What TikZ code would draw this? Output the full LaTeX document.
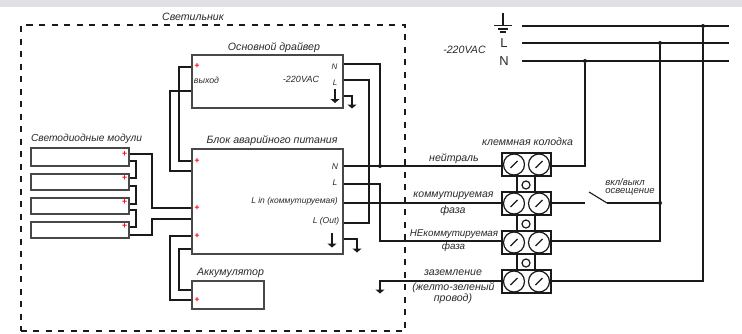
\documentclass[tikz,border=0pt]{standalone}
\usepackage{fontspec}
\setmainfont{Liberation Sans}
\usetikzlibrary{arrows.meta}
\definecolor{ink}{HTML}{1A1A1A}
\definecolor{txt}{HTML}{2A2A2A}
\definecolor{band}{HTML}{DFE1E6}
\tikzset{
  box/.style={draw=ink!80,line width=1.5bp,fill=white,inner sep=0pt,minimum width=#1},
  wire/.style={draw=ink,line width=2bp},
  gnd/.style={wire,-{Triangle[length=4bp,width=9bp]}},
  lbl/.style={text=txt,inner sep=0pt,font=\itshape\fontsize{#1}{#1}\selectfont},
  plus/.style={text=red,inner sep=0pt,font=\bfseries\fontsize{8.5}{8.5}\selectfont},
  screw/.style={circle,draw=ink,line width=1.2bp,minimum size=21bp,inner sep=0pt,fill=white},
  term/.style={rectangle,draw=ink,line width=1.5bp,fill=white,minimum width=49bp,minimum height=23bp,inner sep=0pt},
  link/.style={rectangle,draw=ink,line width=1.5bp,fill=white,minimum width=18bp,minimum height=17bp,inner sep=0pt},
  hole/.style={circle,draw=ink,line width=1.2bp,minimum size=8bp,inner sep=0pt,fill=white},
  dot/.style={circle,fill=ink,inner sep=0pt,minimum size=4bp},
}
\begin{document}
\begin{tikzpicture}[x=1bp,y=-1bp]
\useasboundingbox (0,0) rectangle (742,333);
\fill[band] (0,0) rectangle (742,7);
\fill[white] (0,7) rectangle (742,333);
% lamp enclosure
\node[draw=ink,line width=1.1bp,dash pattern=on 6bp off 6.5bp,inner sep=0pt,minimum width=384bp,minimum height=306bp] (lamp) at (213,178) {};
\node[lbl=10.6bp] (lampt) at (193,17) {Светильник};
% boxes
\node[box=151bp,minimum height=53bp] (drv) at (267.5,81.5) {};
\node[box=151bp,minimum height=105bp] (blk) at (267.5,201.5) {};
\node[box=72bp,minimum height=28bp] (acc) at (228,295) {};
\node[box=98bp,minimum height=18bp] (m1) at (80,157) {};
\node[box=98bp,minimum height=16bp] (m2) at (80,182) {};
\node[box=98bp,minimum height=16bp] (m3) at (80,206) {};
\node[box=98bp,minimum height=16bp] (m4) at (80,230) {};
% terminal block
\foreach \n/\y in {a/185,b/224,c/263}{
  \node[link] (l\n) at (526,\y) {};
  \node[hole] (h\n) at (526,\y) {};
}
\foreach \n/\y in {1/164.5,2/203.5,3/242.5,4/281.5}{
  \node[term] (t\n) at (526.5,\y) {};
  \node[screw] (s\n a) at (514,\y) {};
  \node[screw] (s\n b) at (539,\y) {};
  \draw[draw=ink,line width=1.1bp] (510.5,\y+3.5) -- (517.5,\y-3.5);
  \draw[draw=ink,line width=1.1bp] (535.5,\y+3.5) -- (542.5,\y-3.5);
}
% mains
\coordinate (peS) at (522,26); \coordinate (peE) at (729,26);
\coordinate (lS) at (522,43); \coordinate (lE) at (729,43);
\coordinate (nS) at (522,61); \coordinate (nE) at (729,61);
\draw[wire] (peS) -- (peE);
\draw[wire] (lS) -- (lE);
\draw[wire] (nS) -- (nE);
\node[dot] (dn) at (585,61) {};
\node[dot] (dl) at (660,43) {};
\node[dot] (dpe) at (703,26) {};
\node[dot] (dsw) at (660,203) {};
\node[dot] (dneu) at (380,166) {};
% ground symbol
\coordinate (g0) at (503,13); \coordinate (g1) at (503,25);
\draw[draw=ink,line width=1.3bp] (g0) -- (g1);
\draw[draw=ink,line width=1.3bp] (494,25.5) -- (512,25.5);
\draw[draw=ink,line width=1.3bp] (498,29) -- (508,29);
\draw[draw=ink,line width=1.3bp] (500,32) -- (506,32);
% terminal to mains
\draw[wire] (t1.east |- 0,166) -| (dn);
\draw[wire] (t3.east |- 0,241) -| (dl);
\draw[wire] (t4.east |- 0,281) -| (dpe);
\coordinate (swA) at (585,203); \coordinate (swB) at (589,192); \coordinate (swC) at (607,203);
\draw[wire] (t2.east |- 0,203) -- (swA);
\draw[draw=ink,line width=1.1bp] (swB) -- (swC);
\draw[wire] (swC) -- (dsw);
% module wires
\draw[wire] (m1.east |- 0,154) -| (152,208) -- (blk.west |- 0,208);
\draw[wire] (m4.east |- 0,235) -| (152,219) -- (blk.west |- 0,219);
\draw[wire] (m1.east |- 0,161) -| (136,178) -- (m2.east |- 0,178);
\draw[wire] (m2.east |- 0,186) -| (136,204) -- (m3.east |- 0,204);
\draw[wire] (m3.east |- 0,210) -| (136,227) -- (m4.east |- 0,227);
% driver/block left
\draw[wire] (drv.west |- 0,67) -| (179,161) -- (blk.west |- 0,161);
\draw[wire] (drv.west |- 0,91) -| (170,171) -- (blk.west |- 0,171);
\draw[wire] (blk.west |- 0,236) -| (170,300) -- (acc.west |- 0,300);
\draw[wire] (blk.west |- 0,249) -| (179,290) -- (acc.west |- 0,290);
% right side
\draw[wire] (drv.east |- 0,64) -| (dneu);
\draw[wire] (drv.east |- 0,80) -| (369,223) -- (blk.east |- 0,223);
\coordinate (ga) at (352,108.5);
\draw[gnd] (drv.east |- 0,96) -| (ga);
\coordinate (gb) at (335,103);\coordinate (gb0) at (335,89);
\draw[gnd] (gb0) -- (gb);
\draw[wire] (blk.east |- 0,166) -- (t1.west |- 0,166);
\draw[wire] (blk.east |- 0,184) -| (380,241) -- (t3.west |- 0,241);
\draw[wire] (blk.east |- 0,203) -- (t2.west |- 0,203);
\coordinate (gc) at (357,252.5);
\draw[gnd] (blk.east |- 0,239) -| (gc);
\coordinate (gd0) at (332,233);\coordinate (gd) at (332,247.5);
\draw[gnd] (gd0) -- (gd);
\coordinate (ge) at (380,293.5);
\draw[gnd] (t4.west |- 0,281) -| (ge);
% pluses
\foreach \n/\p in {p1/{197,66.5},p2/{197,161.5},p3/{197,208},p4/{197,236.5},p5/{197,300},p6/{124.5,154},p7/{124.5,178.5},p8/{124.5,202.5},p9/{124.5,226.5}}{
  \node[plus] (\n) at (\p) {+};
}
% texts
\node[lbl=10.6bp] (t01) at (274,48) {Основной драйвер};
\node[lbl=10.6bp] (t02) at (272,141) {Блок аварийного питания};
\node[lbl=10.6bp] (t03) at (230.5,273) {Аккумулятор};
\node[lbl=10.2bp] (t04) at (86.5,139) {Светодиодные модули};
\node[lbl=8.8bp] (t05) at (206.5,80) {выход};
\node[lbl=9bp] (t06) at (301,79) {-220VAC};
\node[lbl=8bp] (t07) at (334.5,67) {N};
\node[lbl=8bp] (t08) at (335,83) {L};
\node[lbl=8.5bp] (t09) at (335,167) {N};
\node[lbl=8.5bp] (t10) at (335,183) {L};
\node[lbl=8.5bp] (t11) at (294.5,201) {L in (коммутируемая)};
\node[lbl=8.5bp] (t12) at (326,221) {L (Out)};
\node[lbl=10.6bp] (t13) at (527.5,142) {клеммная колодка};
\node[lbl=10.6bp] (t14) at (454,159) {нейтраль};
\node[lbl=10.5bp] (t15) at (453.5,196) {коммутируемая};
\node[lbl=10.6bp] (t16) at (453,211) {фаза};
\node[lbl=9.8bp] (t17) at (454,234) {НЕкоммутируемая};
\node[lbl=9.8bp] (t18) at (453.5,247) {фаза};
\node[lbl=10.6bp] (t19) at (453,273) {заземление};
\node[lbl=10.6bp] (t20) at (453.5,288) {(желто-зеленый};
\node[lbl=10.6bp] (t21) at (453,299) {провод)};
\node[lbl=9.5bp] (t22) at (625,182) {вкл/выкл};
\node[lbl=9.5bp] (t23) at (630,192) {освещение};
\node[lbl=10.6bp] (t24) at (464.5,50) {-220VAC};
\node[text=txt,inner sep=0pt,font=\fontsize{13}{13}\selectfont] (t25) at (504,43) {L};
\node[text=txt,inner sep=0pt,font=\fontsize{13}{13}\selectfont] (t26) at (504,61) {N};
\end{tikzpicture}
\end{document}
